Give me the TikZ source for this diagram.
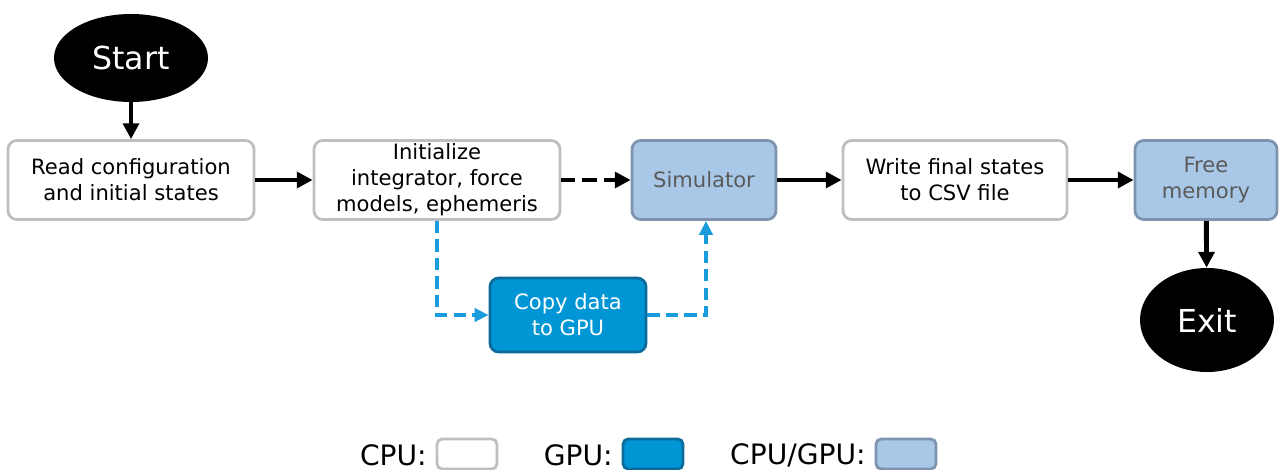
\documentclass[tikz,border=0pt]{standalone}
\usepackage{fontspec}
\setmainfont{DejaVu Sans}
\usepackage{tikz}
\usepackage{xcolor}
\usetikzlibrary{shapes}
\usetikzlibrary{calc}
\usetikzlibrary{positioning, fit, arrows.meta}

\definecolor{cpuedge}{HTML}{BFBFBF}
\definecolor{gpufill}{HTML}{0096D6}
\definecolor{gpuedge}{HTML}{0B6C9C}
\definecolor{mixfill}{HTML}{A9C8E8}
\definecolor{mixedge}{HTML}{7D93AE}
\definecolor{mixtext}{HTML}{5A5A5A}
\definecolor{dashblue}{HTML}{1A9BDB}

\begin{document}
\begin{tikzpicture}[x=0.02cm, y=-0.02cm]
                % Styles for the three kinds of boxes
                \tikzstyle{stagebox}=[rectangle, rounded corners=5pt, line width=1.6pt, minimum height=79*0.02cm, inner sep=0pt, align=center, font=\fontsize{12}{14.8}\selectfont];
                \tikzstyle{cpubox}=[stagebox, draw=cpuedge, fill=white];
                \tikzstyle{gpubox}=[stagebox, draw=gpuedge, fill=gpufill, text=white, minimum height=74*0.02cm];
                \tikzstyle{mixbox}=[stagebox, draw=mixedge, fill=mixfill, text=mixtext];
                \tikzstyle{terminal}=[ellipse, fill=black, text=white, inner sep=0pt, font=\fontsize{18}{20}\selectfont];
                \tikzstyle{flow}=[line width=2.8pt, -{Triangle[length=9pt, width=9pt]}];
                \tikzstyle{gpuflow}=[line width=2.2pt, draw=dashblue, dash pattern=on 7pt off 3.5pt, -{Triangle[length=8pt, width=7.5pt]}, dashblue];
                \tikzstyle{legendbox}=[rectangle, rounded corners=3pt, line width=1.6pt, minimum width=60*0.02cm, minimum height=30*0.02cm, inner sep=0pt];

                \useasboundingbox (0,0) rectangle (1279,470);

                % Start and exit
                \node[terminal, minimum width=154*0.02cm, minimum height=88*0.02cm] (start) at (131,58) {Start};
                \node[terminal, minimum width=134*0.02cm, minimum height=104*0.02cm] (exit) at (1207,320) {Exit};

                % Main row of stages
                \node[cpubox, minimum width=246*0.02cm] (read) at (131,180) {Read configuration\\and initial states};
                \node[cpubox, minimum width=246*0.02cm] (init) at (437,180) {Initialize\\integrator, force\\models, ephemeris};
                \node[mixbox, minimum width=144*0.02cm] (sim) at (704,180) {Simulator};
                \node[cpubox, minimum width=224*0.02cm] (write) at (955,180) {Write final states\\to CSV file};
                \node[mixbox, minimum width=142*0.02cm] (free) at (1206,180) {Free\\memory};

                % GPU stage
                \node[gpubox, minimum width=156*0.02cm] (copy) at (568,315) {Copy data\\to GPU};

                % Arrows
                \draw[flow] (start) -- (read);
                \draw[flow] (read) -- (init);
                \draw[flow, dash pattern=on 8pt off 4pt] (init) -- (sim);
                \draw[flow] (sim) -- (write);
                \draw[flow] (write) -- (free);
                \draw[flow] (free) -- (exit);
                \draw[gpuflow] (init.south) |- (copy.west);
                \draw[gpuflow] (copy.east) -| ($(sim.south)+(2,0)$);

                % Legend
                \begin{scope}[font=\fontsize{16}{18}\selectfont, inner sep=0pt]
                    \node[anchor=east] (cpulabel) at (427,455) {CPU:};
                    \node[legendbox, draw=cpuedge, fill=white] (cpukey) at (467,454) {};
                    \node[anchor=east] (gpulabel) at (613,455) {GPU:};
                    \node[legendbox, draw=gpuedge, fill=gpufill] (gpukey) at (653,454) {};
                    \node[anchor=east] (mixlabel) at (866,455) {CPU/GPU:};
                    \node[legendbox, draw=mixedge, fill=mixfill] (mixkey) at (906,454) {};
                \end{scope}

            \end{tikzpicture}
\end{document}
